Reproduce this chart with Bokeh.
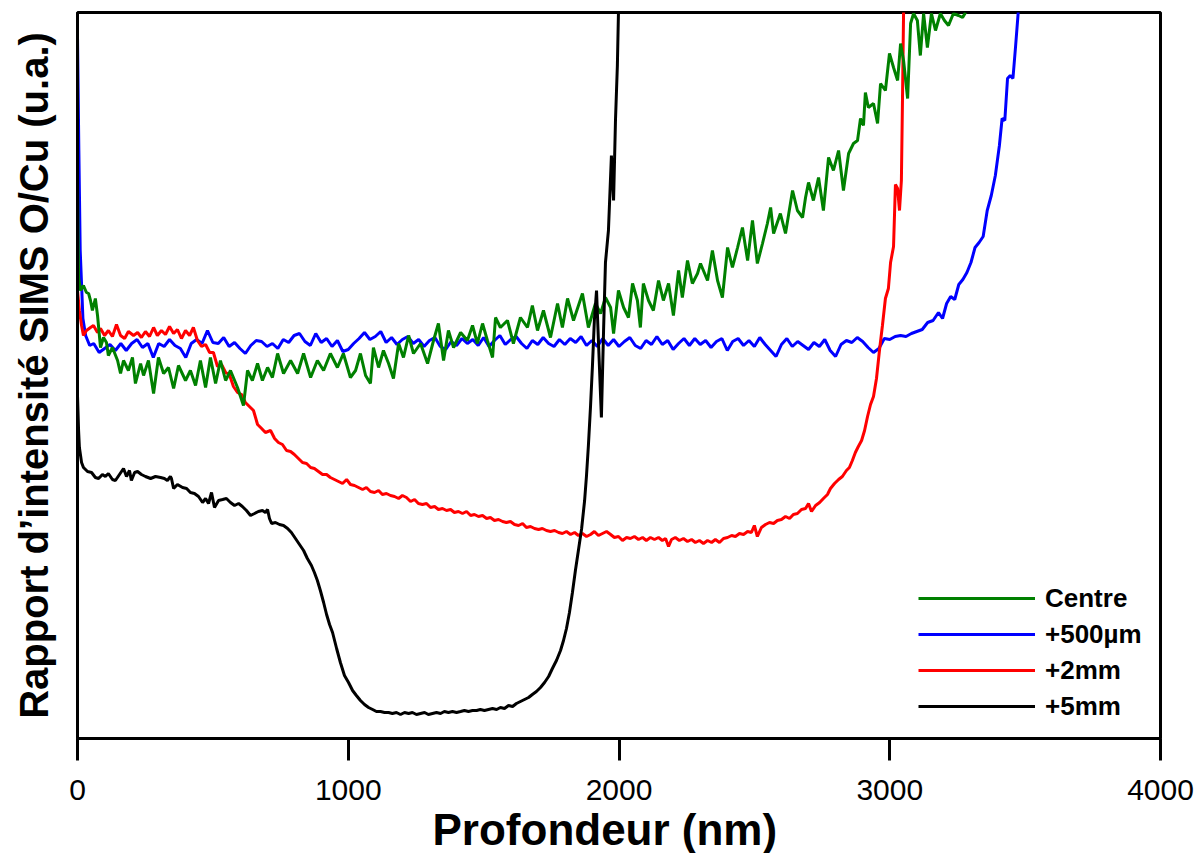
from bokeh.plotting import figure
from bokeh.models import Range1d, FixedTicker, Legend, LegendItem, Title
from bokeh.embed import file_html
from bokeh.resources import INLINE

# ---- data (depth in nm, O/Cu SIMS ratio in arbitrary units) ----
blue_x = [0, 5, 10, 20, 30, 45, 60, 80, 100, 120,
          140, 160, 180, 200, 220, 240, 260, 280, 300, 320,
          340, 360, 380, 400, 420, 440, 460, 480, 500, 520,
          540, 560, 580, 600, 620, 640, 660, 680, 700, 720,
          740, 760, 780, 800, 820, 840, 860, 880, 900, 920,
          940, 960, 980, 1000, 1020, 1040, 1060, 1080, 1100, 1120,
          1140, 1160, 1180, 1200, 1220, 1240, 1260, 1280, 1300, 1320,
          1340, 1360, 1380, 1400, 1420, 1440, 1460, 1480, 1500, 1520,
          1540, 1560, 1580, 1600, 1620, 1640, 1660, 1680, 1700, 1720,
          1740, 1760, 1780, 1800, 1820, 1840, 1860, 1880, 1900, 1920,
          1940, 1960, 1980, 2000, 2020, 2040, 2060, 2080, 2100, 2120,
          2140, 2160, 2180, 2200, 2220, 2240, 2260, 2280, 2300, 2320,
          2340, 2360, 2380, 2400, 2420, 2440, 2460, 2480, 2500, 2520,
          2540, 2560, 2580, 2600, 2620, 2640, 2660, 2680, 2700, 2720,
          2740, 2760, 2780, 2800, 2820, 2840, 2860, 2880, 2900, 2920,
          2940, 2960, 2980, 3000, 3020, 3040, 3060, 3080, 3100, 3120,
          3140, 3160, 3180, 3195, 3210, 3225, 3240, 3255, 3270, 3285,
          3300, 3315, 3330, 3345, 3360, 3375, 3390, 3405, 3415, 3425,
          3435, 3445, 3455, 3465, 3475, 3485]
blue_y = [703, 588, 488, 420, 403, 393, 395, 386, 390, 394,
          388, 395, 388, 395, 399, 391, 395, 381, 395, 392,
          399, 393, 390, 381, 395, 399, 395, 408, 396, 395,
          401, 392, 396, 390, 385, 393, 398, 397, 392, 395,
          390, 399, 396, 403, 405, 397, 393, 405, 396, 400,
          392, 398, 387, 389, 395, 400, 406, 399, 402, 407,
          396, 401, 394, 399, 402, 395, 399, 392, 398, 401,
          392, 389, 397, 393, 400, 395, 399, 393, 401, 392,
          398, 403, 394, 399, 402, 395, 390, 398, 394, 401,
          395, 392, 399, 394, 400, 396, 402, 393, 398, 392,
          400, 393, 399, 392, 397, 401, 393, 390, 398, 394,
          402, 394, 398, 389, 395, 400, 393, 400, 394, 398,
          391, 397, 400, 388, 397, 400, 393, 398, 392, 401,
          394, 388, 382, 394, 400, 392, 397, 393, 389, 396,
          392, 399, 388, 382, 394, 398, 396, 401, 397, 391,
          386, 390, 400, 399, 402, 403, 402, 405, 407, 409,
          416, 418, 426, 420, 435, 442, 439, 454, 459, 466,
          476, 491, 496, 502, 528, 543, 563, 593, 620, 618,
          660, 663, 660, 693, 728, 758]

green_x = [0, 4, 11, 22, 33, 41, 48, 55, 66, 74,
           85, 96, 107, 114, 129, 148, 159, 170, 188, 203,
           214, 233, 244, 262, 281, 299, 318, 336, 355, 373,
           399, 417, 436, 454, 473, 491, 510, 528, 547, 565,
           591, 613, 628, 646, 665, 683, 702, 720, 739, 761,
           787, 813, 835, 861, 886, 909, 934, 960, 982, 1008,
           1027, 1045, 1064, 1082, 1093, 1112, 1130, 1149, 1167, 1186,
           1204, 1223, 1241, 1267, 1293, 1315, 1333, 1352, 1370, 1389,
           1415, 1440, 1459, 1477, 1496, 1514, 1533, 1544, 1562, 1588,
           1610, 1636, 1662, 1680, 1699, 1721, 1747, 1773, 1791, 1810,
           1832, 1865, 1887, 1913, 1932, 1950, 1969, 1980, 1998, 2017,
           2035, 2050, 2068, 2079, 2090, 2109, 2127, 2146, 2164, 2183,
           2201, 2220, 2234, 2253, 2271, 2290, 2301, 2327, 2345, 2364,
           2382, 2401, 2419, 2438, 2456, 2475, 2493, 2511, 2530, 2548,
           2560, 2571, 2596, 2615, 2641, 2659, 2678, 2689, 2700, 2718,
           2737, 2755, 2774, 2792, 2811, 2829, 2848, 2866, 2881, 2892,
           2903, 2910, 2921, 2940, 2955, 2966, 2984, 2999, 3014, 3029,
           3040, 3051, 3066, 3077, 3088, 3102, 3113, 3125, 3139, 3154,
           3169, 3187, 3202, 3217, 3235, 3254, 3269, 3280]
green_y = [558, 461, 448, 453, 446, 445, 438, 428, 440, 423,
           391, 401, 396, 383, 391, 378, 365, 378, 368, 381,
           355, 375, 363, 378, 345, 381, 365, 371, 350, 373,
           358, 368, 353, 378, 351, 381, 355, 378, 358, 368,
           351, 333, 368, 358, 375, 358, 371, 361, 385, 365,
           378, 365, 385, 361, 378, 368, 385, 371, 385, 361,
           368, 385, 363, 355, 391, 371, 388, 375, 360, 395,
           381, 403, 385, 395, 375, 398, 415, 378, 408, 391,
           406, 398, 413, 395, 415, 398, 381, 421, 411, 418,
           395, 421, 411, 433, 408, 428, 401, 435, 411, 440,
           418, 445, 411, 435, 425, 441, 431, 405, 448, 431,
           421, 455, 438, 411, 455, 438, 428, 458, 438, 455,
           423, 468, 441, 478, 455, 465, 475, 458, 488, 458,
           441, 491, 471, 491, 511, 478, 518, 475, 495, 515,
           531, 505, 525, 505, 548, 528, 521, 541, 556, 538,
           561, 528, 581, 568, 588, 548, 585, 595, 598, 620,
           613, 646, 631, 635, 615, 655, 648, 685, 671, 658,
           695, 678, 640, 715, 725, 718, 683, 725, 691, 725,
           708, 725, 718, 713, 725, 723, 721, 726]

red_x = [0, 7, 15, 22, 33, 48, 59, 74, 85, 100,
         114, 129, 144, 159, 174, 188, 207, 222, 236, 251,
         266, 281, 295, 310, 325, 340, 355, 369, 384, 399,
         414, 428, 443, 458, 473, 488, 502, 517, 532, 547,
         561, 576, 591, 606, 620, 635, 650, 665, 680, 694,
         713, 728, 742, 757, 772, 787, 801, 816, 831, 846,
         861, 875, 890, 905, 920, 934, 949, 964, 979, 994,
         1008, 1023, 1038, 1053, 1067, 1082, 1097, 1112, 1126, 1141,
         1156, 1171, 1186, 1200, 1215, 1230, 1245, 1259, 1274, 1289,
         1304, 1319, 1333, 1348, 1363, 1378, 1392, 1407, 1422, 1437,
         1452, 1466, 1481, 1496, 1511, 1525, 1540, 1555, 1570, 1584,
         1599, 1614, 1629, 1644, 1658, 1673, 1688, 1703, 1717, 1732,
         1747, 1762, 1777, 1791, 1806, 1821, 1836, 1850, 1865, 1880,
         1895, 1909, 1924, 1939, 1954, 1969, 1983, 1998, 2013, 2028,
         2042, 2057, 2072, 2087, 2101, 2116, 2131, 2146, 2160, 2172,
         2183, 2194, 2208, 2223, 2238, 2253, 2268, 2282, 2297, 2312,
         2327, 2342, 2356, 2371, 2386, 2401, 2416, 2430, 2445, 2460,
         2475, 2489, 2500, 2511, 2526, 2541, 2556, 2571, 2585, 2600,
         2615, 2630, 2644, 2659, 2674, 2689, 2700, 2711, 2726, 2741,
         2755, 2770, 2781, 2796, 2811, 2825, 2840, 2851, 2862, 2873,
         2884, 2896, 2907, 2918, 2929, 2940, 2951, 2962, 2973, 2984,
         2995, 3003, 3014, 3021, 3029, 3036, 3043, 3047, 3051, 3054]
red_y = [448, 428, 413, 403, 408, 411, 413, 406, 410, 403,
         408, 402, 414, 403, 400, 407, 403, 406, 401, 407,
         402, 411, 403, 408, 404, 412, 405, 409, 400, 408,
         403, 411, 398, 392, 394, 386, 386, 372, 374, 366,
         364, 352, 346, 344, 336, 332, 328, 314, 310, 306,
         308, 300, 296, 294, 288, 287, 284, 280, 276, 275,
         271, 270, 267, 264, 264, 261, 259, 257, 255, 259,
         254, 253, 251, 249, 251, 247, 246, 248, 244, 245,
         243, 242, 240, 243, 241, 237, 239, 235, 234, 235,
         231, 232, 229, 230, 228, 229, 226, 227, 225, 227,
         223, 224, 222, 223, 220, 221, 218, 219, 217, 216,
         217, 214, 213, 215, 211, 212, 210, 209, 210, 208,
         207, 208, 206, 205, 207, 204, 206, 203, 205, 202,
         204, 207, 203, 205, 207, 204, 201, 202, 198, 201,
         200, 202, 199, 201, 198, 201, 199, 201, 198, 200,
         192, 199, 201, 198, 200, 197, 199, 196, 198, 195,
         198, 196, 199, 196, 200, 201, 203, 202, 205, 204,
         207, 206, 213, 202, 211, 214, 216, 215, 218, 219,
         222, 220, 224, 225, 229, 230, 235, 227, 233, 236,
         240, 244, 250, 255, 259, 262, 268, 271, 278, 286,
         292, 298, 308, 322, 334, 342, 360, 388, 413, 440,
         450, 476, 492, 554, 550, 528, 558, 638, 725, 768]

black_x = [0, 4, 7, 15, 22, 37, 52, 66, 78, 92,
           103, 114, 129, 140, 155, 170, 181, 192, 199, 211,
           222, 236, 251, 270, 288, 307, 321, 332, 343, 347,
           355, 369, 388, 403, 417, 432, 447, 462, 473, 484,
           495, 506, 521, 536, 550, 565, 580, 595, 609, 624,
           639, 654, 668, 683, 694, 702, 709, 717, 731, 746,
           761, 776, 790, 805, 820, 835, 849, 864, 875, 886,
           897, 909, 920, 931, 942, 957, 971, 986, 1001, 1016,
           1030, 1045, 1060, 1075, 1090, 1104, 1119, 1134, 1149, 1163,
           1178, 1193, 1208, 1223, 1237, 1252, 1267, 1282, 1296, 1311,
           1326, 1341, 1355, 1370, 1385, 1400, 1415, 1429, 1444, 1459,
           1474, 1488, 1503, 1518, 1533, 1548, 1562, 1577, 1592, 1607,
           1621, 1636, 1651, 1666, 1680, 1695, 1710, 1725, 1740, 1754,
           1769, 1784, 1795, 1806, 1817, 1828, 1839, 1850, 1862, 1873,
           1880, 1887, 1895, 1902, 1909, 1917, 1924, 1935, 1943, 1950,
           1961, 1972, 1980, 1987, 1994, 1998, 2002]
black_y = [343, 308, 291, 276, 271, 267, 266, 261, 260, 264,
           262, 265, 259, 258, 264, 270, 262, 268, 258, 266,
           267, 264, 262, 260, 262, 261, 260, 258, 262, 260,
           250, 254, 251, 250, 246, 245, 242, 236, 240, 235,
           246, 231, 238, 239, 240, 236, 233, 235, 232, 228,
           223, 225, 227, 228, 226, 229, 220, 215, 216, 214,
           213, 210, 206, 200, 194, 188, 180, 173, 166, 158,
           148, 136, 124, 114, 106, 90, 76, 63, 56, 48,
           43, 38, 34, 31, 29, 27, 27, 26, 26, 25,
           26, 24, 26, 25, 26, 24, 25, 26, 24, 25,
           26, 25, 27, 26, 27, 26, 27, 28, 27, 28,
           28, 29, 28, 29, 30, 29, 31, 30, 33, 32,
           35, 37, 39, 41, 44, 47, 51, 56, 62, 70,
           78, 88, 98, 110, 126, 146, 168, 188, 210, 238,
           263, 293, 333, 373, 418, 448, 398, 321, 408, 476,
           508, 583, 538, 618, 673, 726, 768]

x_ticks = [0, 1000, 2000, 3000, 4000]
series_labels = ["Centre", "+500\u00b5m", "+2mm", "+5mm"]
series_colors = ["#008000", "#0000FF", "#FF0000", "#000000"]

FONT = "Liberation Sans"

p = figure(frame_width=1083, frame_height=726,
           x_range=Range1d(0, 4000), y_range=Range1d(0, 726),
           output_backend="svg", toolbar_location=None,
           min_border_left=77, min_border_right=34,
           min_border_top=12, min_border_bottom=100)

p.grid.visible = False
p.outline_line_color = "black"
p.outline_line_width = 3
p.outline_line_alpha = 1.0
p.background_fill_color = "white"
p.border_fill_color = "white"

# x axis
xa = p.xaxis[0]
xa.ticker = FixedTicker(ticks=x_ticks)
xa.axis_line_width = 3
xa.axis_line_color = "black"
xa.major_tick_in = 0
xa.major_tick_out = 22
xa.major_tick_line_width = 3
xa.major_tick_line_color = "black"
xa.minor_tick_in = 0
xa.minor_tick_out = 0
xa.major_label_text_font = FONT
xa.major_label_text_font_size = "30px"
xa.major_label_text_color = "black"
xa.major_label_standoff = 19

# x-axis title, placed below the axis, left-aligned with an offset as in the original
x_title = Title(text="Profondeur (nm)", align="left", offset=355,
                text_font=FONT, text_font_size="44px", text_font_style="bold",
                text_color="black", standoff=0)
p.add_layout(x_title, "below")

# y axis (no ticks, no labels)
ya = p.yaxis[0]
ya.ticker = FixedTicker(ticks=[])
ya.axis_line_width = 3
ya.axis_line_color = "black"
ya.major_tick_in = 0
ya.major_tick_out = 0
ya.minor_tick_in = 0
ya.minor_tick_out = 0
ya.major_label_text_font_size = "0px"
ya.major_label_standoff = 0
ya.axis_label = "Rapport d\u2019intensit\u00e9 SIMS O/Cu (u.a.)"
ya.axis_label_text_font = FONT
ya.axis_label_text_font_size = "40px"
ya.axis_label_text_font_style = "bold"
ya.axis_label_text_color = "black"
ya.axis_label_standoff = 22

LW = 3
r_blue = p.line(blue_x, blue_y, line_color=series_colors[1], line_width=LW)
r_red = p.line(red_x, red_y, line_color=series_colors[2], line_width=LW)
r_green = p.line(green_x, green_y, line_color=series_colors[0], line_width=LW)
r_black = p.line(black_x, black_y, line_color=series_colors[3], line_width=LW)

legend = Legend(items=[
    LegendItem(label=series_labels[0], renderers=[r_green]),
    LegendItem(label=series_labels[1], renderers=[r_blue]),
    LegendItem(label=series_labels[2], renderers=[r_red]),
    LegendItem(label=series_labels[3], renderers=[r_black]),
], location=(841, 14))
legend.glyph_width = 117
legend.glyph_height = 36
legend.label_height = 36
legend.spacing = 0
legend.padding = 0
legend.margin = 0
legend.label_standoff = 10
legend.label_text_font = FONT
legend.label_text_font_style = "bold"
legend.label_text_font_size = "26px"
legend.label_text_color = "black"
legend.border_line_alpha = 0
legend.background_fill_alpha = 0
p.add_layout(legend)

open("out.html", "w").write(file_html(p, INLINE))
